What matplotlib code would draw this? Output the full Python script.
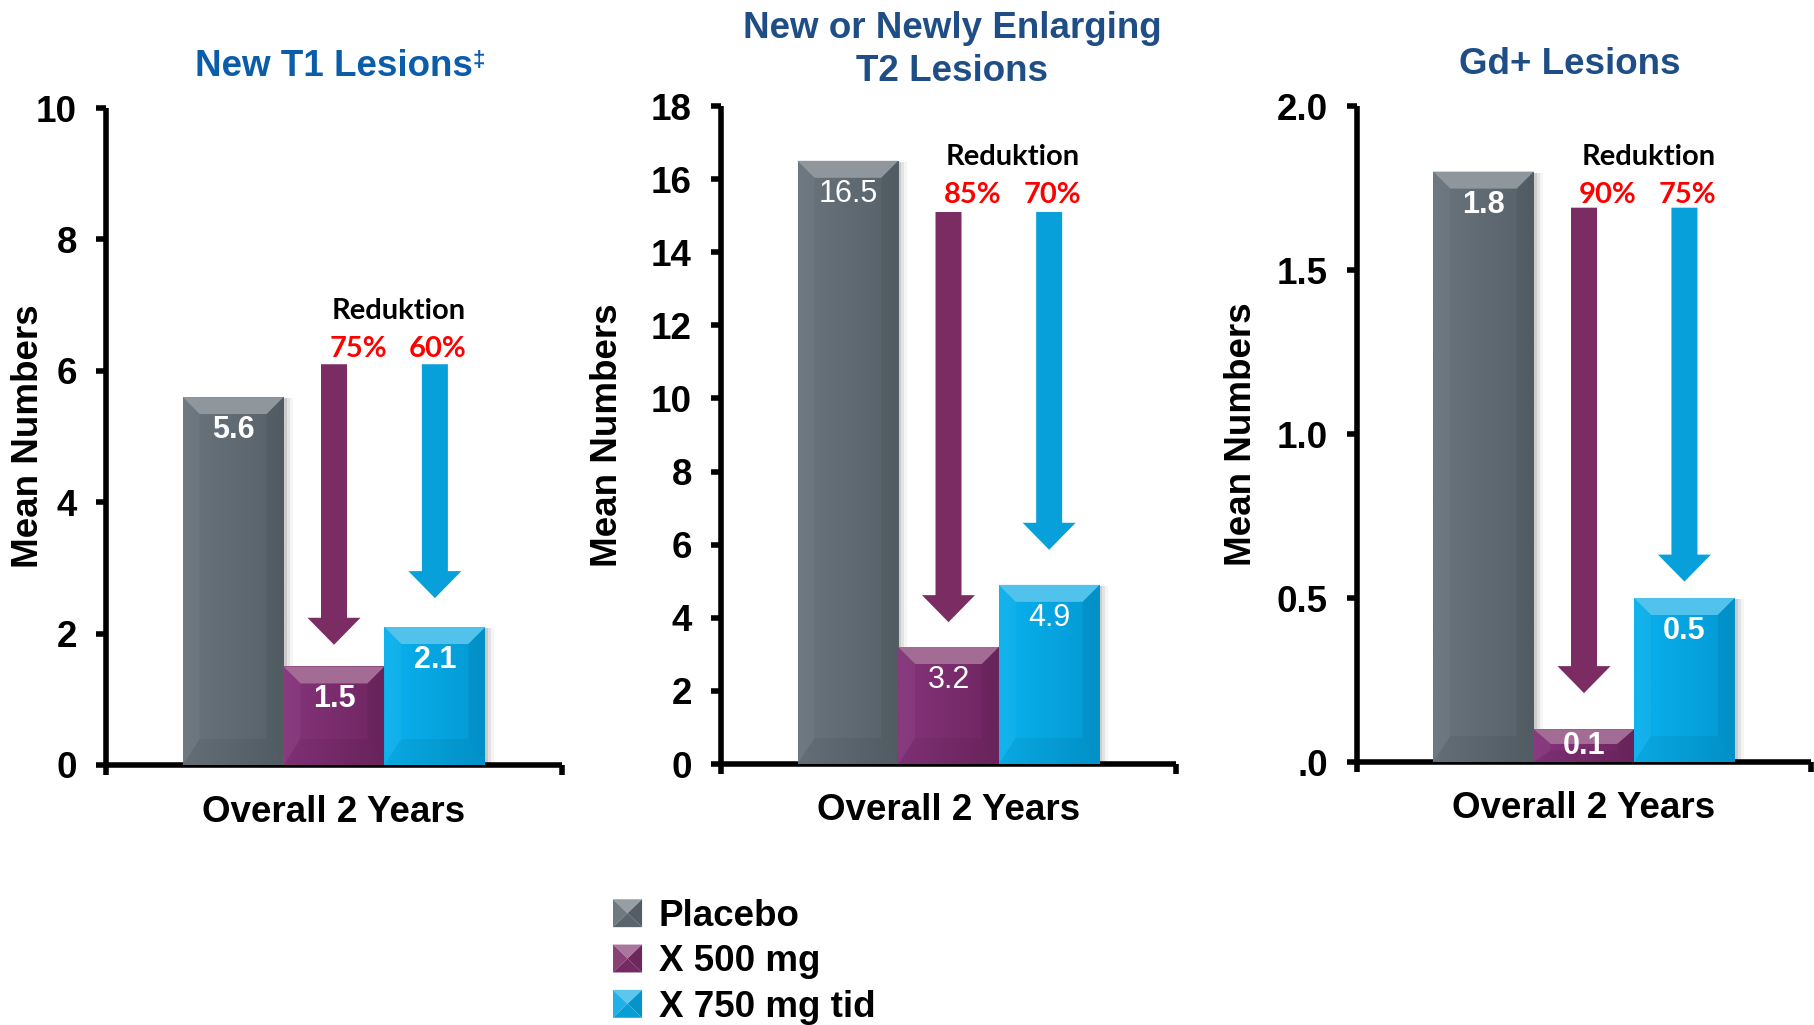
import numpy as np
import matplotlib
matplotlib.use("Agg")
import matplotlib.pyplot as plt
from matplotlib.patches import Polygon, Patch, FancyArrow, Rectangle
from matplotlib.legend_handler import HandlerBase
from matplotlib.colors import to_rgb
from matplotlib.transforms import offset_copy

# ---- data -------------------------------------------------------------
groups = ["Placebo", "X 500 mg", "X 750 mg tid"]
titles = ["New T1 Lesions", "New or Newly Enlarging\nT2 Lesions", "Gd+ Lesions"]
title_marks = ["\u2021", "", ""]
title_colors = ["#0B5DAA", "#1F4E86", "#1F4E86"]
x_label = "Overall 2 Years"
y_label = "Mean Numbers"

placebo = [5.6, 16.5, 1.8]
dose_500 = [1.5, 3.2, 0.1]
dose_750 = [2.1, 4.9, 0.5]
value_labels_bold = [True, False, True]

y_max = [10, 18, 2.0]
y_ticks = [[0, 2, 4, 6, 8, 10],
           [0, 2, 4, 6, 8, 10, 12, 14, 16, 18],
           [0.0, 0.5, 1.0, 1.5, 2.0]]
y_ticklabels = [["0", "2", "4", "6", "8", "10"],
                ["0", "2", "4", "6", "8", "10", "12", "14", "16", "18"],
                [".0", "0.5", "1.0", "1.5", "2.0"]]

reduction_title = "Reduktion"
reduction_500 = ["75%", "85%", "90%"]
reduction_750 = ["60%", "70%", "75%"]
arrow_top = [6.1, 15.1, 1.69]
arrow_tip_500 = [1.83, 3.88, 0.21]
arrow_tip_750 = [2.54, 5.86, 0.55]

# ---- style ------------------------------------------------------------
bar_colors = ["#5F6A73", "#7B2D68", "#06A8E4"]
bar_left = ["#69747D", "#85337A", "#0AB1EE"]
bar_right = ["#566169", "#6F2660", "#0399D3"]
arrow_colors = ["#7A2C63", "#08A0DA"]
SANS = "Liberation Sans"
CAL = "Lato"
FS = 26.5

# pixel offsets of the annotation rows above the arrow tops
pct_off = [15.5, 17, 13]
red_off = [53, 55.5, 50.5]
title_off = [42, 56, 42]
title_dx = [0, 4, -14]

plt.rcParams["font.family"] = [SANS, "DejaVu Sans"]

fig = plt.figure(figsize=(18.14, 10.25), dpi=100)
W, H = 1814, 1025
axes_px = [(106, 765, 456, 108), (721, 764, 455, 106), (1357, 762, 454, 106)]
ylabel_x = [-0.169, -0.2505, -0.2555]
XL = (-2.26, 2.26)
xpos = [-1, 0, 1]
PT = 0.72  # points per pixel at 100 dpi


def mix(c, other, t):
    c = np.array(to_rgb(c))
    o = np.array(to_rgb(other))
    return tuple(c * (1 - t) + o * t)


def px_scale(ax):
    p0 = ax.transData.transform((0, 0))
    p1 = ax.transData.transform((1, 1))
    return p1[0] - p0[0], p1[1] - p0[1]


def bevel(ax, rect, base, left, right, sx, sy):
    x0 = rect.get_x()
    w = rect.get_width()
    h = rect.get_height()
    x1 = x0 + w
    z = rect.get_zorder()
    # soft shadow on the right
    for k, a in zip([3, 6, 9], [0.10, 0.07, 0.04]):
        tr = offset_copy(ax.transData, fig=fig, x=k, y=-1, units="dots")
        ax.add_patch(Rectangle((x0, 0), w, h, transform=tr, fc="black",
                               ec="none", alpha=a, zorder=z - 0.5))
    # horizontal gradient clipped to the bar
    g = np.linspace(0, 1, 64)[None, :, None]
    img = (np.array(to_rgb(left))[None, None, :] * (1 - g)
           + np.array(to_rgb(right))[None, None, :] * g)
    im = ax.imshow(img, extent=(x0, x1, 0, h), aspect="auto", zorder=z + 0.1,
                   interpolation="bilinear")
    im.set_clip_path(rect)
    bx = 17 / sx
    bt = min(17 / sy, h * 0.45)
    bb = min(26 / sy, h * 0.35)
    ax.add_patch(Polygon([(x0, h), (x1, h), (x1 - bx, h - bt), (x0 + bx, h - bt)],
                         closed=True, fc=mix(base, "white", 0.30), ec="none",
                         zorder=z + 0.2))
    ax.add_patch(Polygon([(x0, 0), (x0, h), (x0 + bx, h - bt), (x0 + bx, bb)],
                         closed=True, fc="white", alpha=0.04, ec="none",
                         zorder=z + 0.2))
    ax.add_patch(Polygon([(x1, 0), (x1, h), (x1 - bx, h - bt), (x1 - bx, bb)],
                         closed=True, fc="black", alpha=0.06, ec="none",
                         zorder=z + 0.2))
    ax.add_patch(Polygon([(x0, 0), (x1, 0), (x1 - bx, bb), (x0 + bx, bb)],
                         closed=True, fc="black", alpha=0.05, ec="none",
                         zorder=z + 0.2))


class PyramidHandler(HandlerBase):
    def create_artists(self, legend, orig_handle, xdescent, ydescent,
                       width, height, fontsize, trans):
        c = orig_handle.get_facecolor()
        x0, y0 = -xdescent, -ydescent
        x1, y1 = x0 + width, y0 + height
        xc, yc = (x0 + x1) / 2, (y0 + y1) / 2
        tris = [
            ([(x0, y1), (x1, y1), (xc, yc)], mix(c, "white", 0.35)),
            ([(x0, y0), (x0, y1), (xc, yc)], mix(c, "white", 0.10)),
            ([(x1, y0), (x1, y1), (xc, yc)], mix(c, "black", 0.12)),
            ([(x0, y0), (x1, y0), (xc, yc)], mix(c, "black", 0.06)),
        ]
        return [Polygon(v, closed=True, fc=col, ec="none", transform=trans)
                for v, col in tris]


for i, (lx, ly, lw, ty) in enumerate(axes_px):
    ax = fig.add_axes([lx / W, 1 - ly / H, lw / W, (ly - ty) / H])
    ax.set_xlim(*XL)
    ax.set_ylim(0, y_max[i])
    sx, sy = px_scale(ax)

    vals = [placebo[i], dose_500[i], dose_750[i]]
    rects = ax.bar(xpos, vals, width=1.0, color=bar_colors, zorder=3)
    for r, base, le, ri in zip(rects, bar_colors, bar_left, bar_right):
        bevel(ax, r, base, le, ri, sx, sy)

    # value labels inside the bars
    for r, v in zip(rects, vals):
        hpx = v * sy
        off = min(33, 0.52 * hpx)
        ax.annotate(f"{v:.1f}", xy=(r.get_x() + r.get_width() / 2, v),
                    xytext=(0, -off * PT), textcoords="offset points",
                    ha="center", va="center", color="white", fontsize=22,
                    fontweight="bold" if value_labels_bold[i] else "normal",
                    zorder=6)

    # reduction arrows
    for xp, tip, col in [(0, arrow_tip_500[i], arrow_colors[0]),
                         (1, arrow_tip_750[i], arrow_colors[1])]:
        ax.add_patch(FancyArrow(xp, arrow_top[i], 0, tip - arrow_top[i],
                                width=26 / sx, head_width=53 / sx,
                                head_length=27 / sy, length_includes_head=True,
                                fc=col, ec="none", zorder=5))

    for xp, txt in [(0.24, reduction_500[i]), (1.03, reduction_750[i])]:
        ax.annotate(txt, xy=(xp, arrow_top[i]), xytext=(0, pct_off[i] * PT),
                    textcoords="offset points", ha="center", va="center",
                    color="#FF0000", fontsize=21, fontweight="bold", family=CAL)
    ax.annotate(reduction_title, xy=(0.64, arrow_top[i]),
                xytext=(0, red_off[i] * PT), textcoords="offset points",
                ha="center", va="center", color="black", fontsize=21,
                fontweight="bold", family=CAL)

    # axes styling
    ax.set_xlim(*XL)
    ax.set_ylim(0, y_max[i])
    for s in ["top", "right"]:
        ax.spines[s].set_visible(False)
    for s in ["left", "bottom"]:
        ax.spines[s].set_linewidth(4)
        ax.spines[s].set_capstyle("butt")
    ax.set_yticks(y_ticks[i])
    ax.set_yticklabels(y_ticklabels[i])
    ax.set_xticks(list(XL))
    ax.set_xticklabels(["", ""])
    ax.tick_params(axis="y", length=7, width=4, pad=14, labelsize=FS)
    ax.tick_params(axis="x", length=7, width=4, direction="out")
    for lab in ax.get_yticklabels():
        lab.set_fontweight("bold")
    ax.set_ylabel(y_label, fontsize=FS, fontweight="bold")
    ax.yaxis.label.set_va("center")
    ax.yaxis.set_label_coords(ylabel_x[i], 0.5)
    ax.annotate(x_label, xy=(0.5, 0), xycoords="axes fraction",
                xytext=(0, -47 * PT), textcoords="offset points",
                ha="center", va="center", fontsize=FS, fontweight="bold")

    # panel title
    t = ax.annotate(titles[i], xy=(0.5, 1), xycoords="axes fraction",
                    xytext=(title_dx[i] * PT, title_off[i] * PT),
                    textcoords="offset points",
                    ha="center", va="center", fontsize=FS, fontweight="bold",
                    color=title_colors[i], linespacing=1.3)
    if title_marks[i]:
        ax.annotate(title_marks[i], xy=(1.0, 0.95), xycoords=t, ha="left",
                    va="top", fontsize=16, fontweight="bold",
                    color=title_colors[i])

handles = [Patch(facecolor=c) for c in bar_colors]
fig.legend(handles, groups, loc="upper left",
           bbox_to_anchor=(613 / W, 1 - 899 / H), frameon=False,
           prop={"family": SANS, "weight": "bold", "size": FS},
           handler_map={Patch: PyramidHandler()},
           handlelength=0.79, handleheight=0.79, handletextpad=0.45,
           labelspacing=0.28, borderpad=0, borderaxespad=0)

fig.savefig("out.png", dpi=100)
